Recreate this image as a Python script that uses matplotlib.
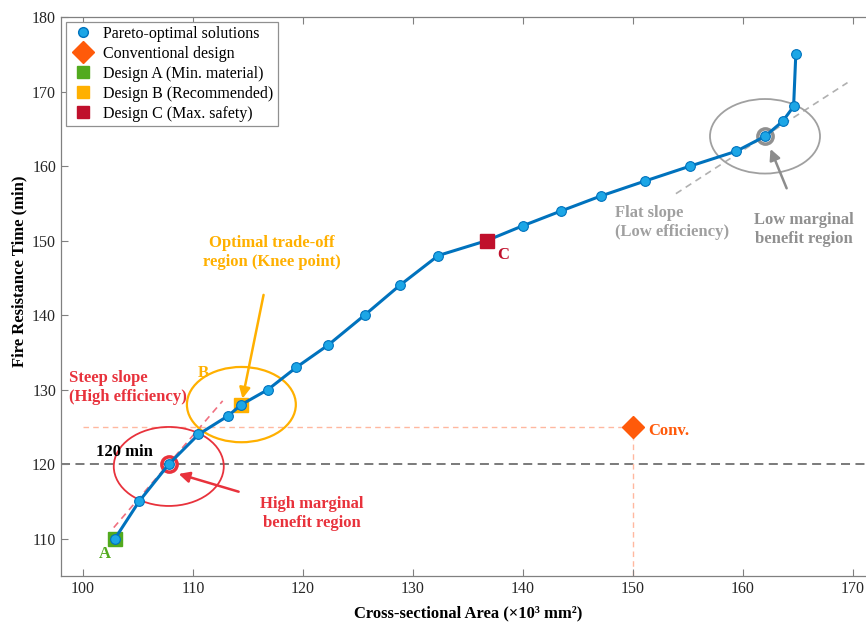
import matplotlib
matplotlib.use("Agg")
import matplotlib.pyplot as plt
from matplotlib.lines import Line2D
from matplotlib.patches import Ellipse

plt.rcParams["font.family"] = ["Liberation Serif", "DejaVu Serif"]

# Pareto front (area x10^3 mm^2, fire resistance time min)
pareto_x = [102.9, 105.1, 107.8, 110.5, 113.2, 114.4, 116.8, 119.4, 122.3, 125.6,
            128.8, 132.3, 136.7, 140.0, 143.5, 147.1, 151.1, 155.2, 159.4, 162.0,
            163.6, 164.6, 164.8]
pareto_y = [110, 115, 120, 124, 126.5, 128, 130, 133, 136, 140,
            144, 148, 150, 152, 154, 156, 158, 160, 162, 164,
            166, 168, 175]

conv_x, conv_y = 150, 125
design_names = ["A", "B", "C"]
design_x = [102.9, 114.4, 136.7]
design_y = [110, 128, 150]
design_colors = ["#52AA1E", "#FFB000", "#C0102C"]
target_time = 120

# tangent guide lines (steep and flat)
steep_x = [102.8, 112.7]
steep_y = [111.5, 128.5]
flat_x = [153.9, 169.5]
flat_y = [156.3, 171.2]

high_idx = 2    # 120 min point
low_idx = 19    # low marginal benefit point

blue_line = "#0072BD"
blue_face = "#1CA6E6"
conv_color = "#FF5A0A"
red = "#E8323C"
orange = "#FFB000"
gray = "#A0A0A0"

fig = plt.figure(figsize=(8.66, 6.24), dpi=100)
ax = fig.add_axes([0.0704, 0.0769, 0.9400, 0.8958])

# reference lines
ax.axhline(target_time, color="#707070", ls=(0, (5, 3)), lw=1.3, zorder=1)
ax.plot([100, conv_x], [conv_y, conv_y], color="#FFB8A0", ls=(0, (4, 3)), lw=1.0, zorder=1)
ax.plot([conv_x, conv_x], [105, conv_y], color="#FFB8A0", ls=(0, (4, 3)), lw=1.0, zorder=1)
ax.plot(steep_x, steep_y, color="#F07080", ls=(0, (4, 3)), lw=1.2, zorder=1)
ax.plot(flat_x, flat_y, color="#B0B0B0", ls=(0, (4, 3)), lw=1.2, zorder=1)

# region ellipses
ax.add_patch(Ellipse((pareto_x[high_idx], pareto_y[high_idx] - 0.3), 10, 10.6,
                     fill=False, ec=red, lw=1.3, zorder=2))
ax.add_patch(Ellipse((design_x[1], design_y[1]), 9.9, 10.1,
                     fill=False, ec=orange, lw=1.6, zorder=2))
ax.add_patch(Ellipse((pareto_x[low_idx], pareto_y[low_idx]), 10, 10,
                     fill=False, ec=gray, lw=1.3, zorder=2))

# design squares A and B behind the pareto markers
for i in range(2):
    ax.plot(design_x[i], design_y[i], "s", ms=10, color=design_colors[i], zorder=3)

# highlighted rings
ax.plot(pareto_x[high_idx], pareto_y[high_idx], "o", ms=11, mfc="none", mec=red, mew=2.5, zorder=3)
ax.plot(pareto_x[low_idx], pareto_y[low_idx], "o", ms=11, mfc="none", mec="#909090", mew=2.5, zorder=3)

ax.plot(pareto_x, pareto_y, "-o", color=blue_line, lw=2.2, ms=7,
        mfc=blue_face, mec=blue_line, mew=0.8, zorder=4)

ax.plot(design_x[2], design_y[2], "s", ms=10, color=design_colors[2], zorder=5)
ax.plot(conv_x, conv_y, "D", ms=11, color=conv_color, zorder=5)

# labels
bold = dict(fontweight="bold", fontsize=12)
ax.text(101.2, 121.6, "120 min", color="black", ha="left", va="center", **bold)
ax.text(98.7, 130.3, "Steep slope\n(High efficiency)", color=red, ha="left", va="center",
        linespacing=1.25, **bold)
ax.text(110.9, 132.2, "B", color=orange, ha="center", va="center", **bold)
ax.text(102.0, 107.9, "A", color=design_colors[0], ha="center", va="center", **bold)
ax.text(138.2, 148.1, "C", color=design_colors[2], ha="center", va="center", **bold)
ax.text(conv_x + 1.4, conv_y - 0.5, "Conv.", color=conv_color, ha="left", va="center", **bold)
ax.text(148.4, 152.4, "Flat slope\n(Low efficiency)", color=gray, ha="left", va="center",
        linespacing=1.25, **bold)

ax.annotate("Optimal trade-off\nregion (Knee point)", xy=(114.5, 128.8), xytext=(117.2, 148.4),
            color=orange, ha="center", va="center", linespacing=1.3, **bold,
            arrowprops=dict(arrowstyle="-|>", color=orange, lw=1.8, mutation_scale=16,
                            shrinkA=16, shrinkB=0))
ax.annotate("High marginal\nbenefit region", xy=(108.7, 118.7), xytext=(120.8, 113.4),
            color=red, ha="center", va="center", linespacing=1.3, **bold,
            arrowprops=dict(arrowstyle="-|>", color=red, lw=1.8, mutation_scale=16,
                            shrinkA=14, shrinkB=0))
ax.annotate("Low marginal\nbenefit region", xy=(162.5, 162.3), xytext=(165.5, 151.5),
            color="#909090", ha="center", va="center", linespacing=1.3, **bold,
            arrowprops=dict(arrowstyle="-|>", color="#8C8C8C", lw=1.8, mutation_scale=16,
                            shrinkA=16, shrinkB=0))

ax.set_xlim(98, 172)
ax.set_ylim(105, 180)
ax.set_xticks(range(100, 171, 10))
ax.set_yticks(range(110, 181, 10))
ax.tick_params(direction="in", top=True, right=True, length=5, color="#808080",
               labelsize=11.5, labelcolor="#262626")
for s in ax.spines.values():
    s.set_color("#808080")
    s.set_linewidth(0.9)

ax.set_xlabel("Cross-sectional Area (×10³ mm²)", fontsize=12, fontweight="bold", labelpad=6)
ax.set_ylabel("Fire Resistance Time (min)", fontsize=12, fontweight="bold")
ax.yaxis.set_label_coords(-0.041, 0.545)

handles = [
    Line2D([], [], ls="none", marker="o", ms=7, mfc=blue_face, mec=blue_line),
    Line2D([], [], ls="none", marker="D", ms=11, color=conv_color),
    Line2D([], [], ls="none", marker="s", ms=9, color=design_colors[0]),
    Line2D([], [], ls="none", marker="s", ms=9, color=design_colors[1]),
    Line2D([], [], ls="none", marker="s", ms=9, color=design_colors[2]),
]
labels = ["Pareto-optimal solutions", "Conventional design", "Design A (Min. material)",
          "Design B (Recommended)", "Design C (Max. safety)"]
leg = ax.legend(handles, labels, loc="upper left", bbox_to_anchor=(0.0, 1.0),
                fontsize=11.5, fancybox=False, edgecolor="#909090", framealpha=1,
                handletextpad=0.5, labelspacing=0.25, borderpad=0.25, handlelength=1.6,
                borderaxespad=0.3)
leg.get_frame().set_linewidth(0.9)

fig.savefig("out.png", dpi=100)
